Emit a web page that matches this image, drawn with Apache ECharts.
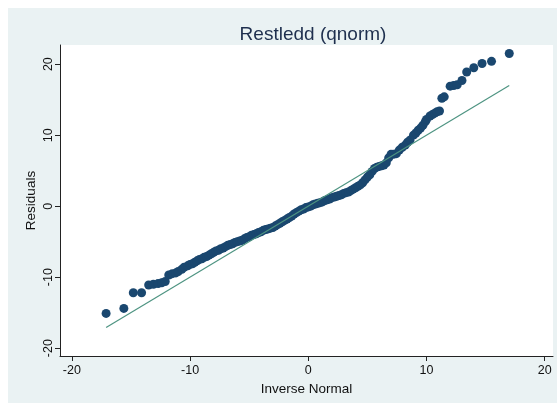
<!DOCTYPE html>
<html>
<head>
<meta charset="utf-8">
<script src="https://cdn.jsdelivr.net/npm/echarts@6/dist/echarts.min.js"></script>
<style>
  html, body { margin: 0; padding: 0; background: #fff; }
  #chart { width: 557px; height: 405px; }
</style>
</head>
<body>
<div id="chart"></div>
<script>
// Inverse normal quantiles (x) and sorted residuals (y)
var inverseNormal = [
  -17.1, -15.6, -14.8, -14.1, -13.5, -13.1, -12.7, -12.4, -12.1, -11.8,
  -11.5, -11.2, -11.0, -10.7, -10.5, -10.2, -10.0, -9.8, -9.6, -9.4,
  -9.2, -9.0, -8.8, -8.6, -8.4, -8.2, -8.0, -7.8, -7.6, -7.4,
  -7.2, -7.0, -6.8, -6.6, -6.4, -6.2, -6.0, -5.8, -5.6, -5.4,
  -5.2, -5.0, -4.8, -4.6, -4.4, -4.2, -4.0, -3.8, -3.6, -3.4,
  -3.2, -3.0, -2.8, -2.6, -2.4, -2.2, -2.0, -1.8, -1.6, -1.4,
  -1.2, -1.0, -0.8, -0.6, -0.4, -0.2, 0.0, 0.2, 0.4, 0.6,
  0.8, 1.0, 1.2, 1.4, 1.6, 1.8, 2.0, 2.2, 2.4, 2.6,
  2.8, 3.0, 3.2, 3.4, 3.6, 3.8, 4.0, 4.2, 4.4, 4.6,
  4.8, 5.0, 5.2, 5.4, 5.6, 5.8, 6.0, 6.2, 6.4, 6.6,
  6.8, 7.0, 7.2, 7.45, 7.7, 7.95, 8.2, 8.4, 8.6, 8.9,
  9.1, 9.3, 9.5, 9.7, 9.9, 10.0, 10.3, 10.5, 10.7, 10.9,
  11.1, 11.3, 11.5, 12.0, 12.3, 12.6, 13.0, 13.4, 14.0, 14.7,
  15.5, 17.0
];
var residuals = [
  -15.1, -14.4, -12.2, -12.2, -11.1, -11.0, -10.9, -10.8, -10.6, -9.7,
  -9.5, -9.4, -9.2, -8.9, -8.6, -8.4, -8.2, -8.1, -7.9, -7.7,
  -7.5, -7.4, -7.2, -7.1, -6.9, -6.7, -6.5, -6.3, -6.2, -6.0,
  -5.9, -5.7, -5.5, -5.4, -5.3, -5.1, -5.0, -4.9, -4.8, -4.6,
  -4.4, -4.3, -4.1, -4.0, -3.9, -3.7, -3.6, -3.4, -3.3, -3.2,
  -3.1, -3.0, -2.8, -2.6, -2.4, -2.2, -2.0, -1.8, -1.6, -1.4,
  -1.1, -0.9, -0.7, -0.5, -0.4, -0.2, -0.1, 0.0, 0.2, 0.3,
  0.4, 0.5, 0.6, 0.8, 0.9, 1.0, 1.2, 1.3, 1.4, 1.5,
  1.6, 1.8, 1.9, 2.0, 2.2, 2.4, 2.6, 2.8, 3.0, 3.3,
  3.7, 4.1, 4.4, 4.9, 5.3, 5.5, 5.6, 5.7, 5.8, 6.1,
  6.8, 7.3, 7.3, 7.4, 7.9, 8.3, 8.6, 9.0, 9.3, 10.0,
  10.3, 10.7, 11.0, 11.4, 11.9, 12.2, 12.7, 12.9, 13.1, 13.3,
  13.4, 15.2, 15.4, 16.9, 17.0, 17.1, 17.7, 18.9, 19.5, 20.1,
  20.4, 21.5
];
// reference line ends
var lineX = [-17.1, 17.0];
var lineY = [-17.1, 17.0];
var tickValues = [-20, -10, 0, 10, 20];

var points = inverseNormal.map(function (x, i) { return [x, residuals[i]]; });
var refLine = lineX.map(function (x, i) { return [x, lineY[i]]; });

var font = 'Liberation Sans, Arial, sans-serif';
var chart = echarts.init(document.getElementById('chart'));
chart.setOption({
  backgroundColor: '#fff',
  animation: false,
  graphic: [{
    type: 'rect', z: -10, silent: true,
    shape: { x: 8, y: 8, width: 549, height: 395 },
    style: { fill: '#eaf2f3' }
  }],
  title: {
    text: 'Restledd (qnorm)',
    left: 308, top: 20, textAlign: 'center',
    textStyle: { fontFamily: font, fontSize: 19, fontWeight: 'normal', color: '#1e2f4e' }
  },
  grid: {
    left: 60, top: 45, right: 4, bottom: 49,
    show: true, backgroundColor: '#fff', borderWidth: 0
  },
  xAxis: {
    type: 'value', min: -21, max: 20.7,
    name: 'Inverse Normal', nameLocation: 'middle', nameGap: 23,
    nameTextStyle: { fontFamily: font, fontSize: 13.5, color: '#111' },
    axisLine: { onZero: false, lineStyle: { color: '#222', width: 1 } },
    axisTick: { show: true, length: 5, customValues: tickValues, lineStyle: { color: '#222' } },
    axisLabel: { customValues: tickValues, margin: 8, fontFamily: font, fontSize: 12.5, color: '#111' },
    splitLine: { show: false }
  },
  yAxis: {
    type: 'value', min: -21.1, max: 22.7,
    name: 'Residuals', nameLocation: 'middle', nameGap: 22, nameMoveOverlap: false,
    nameTextStyle: { fontFamily: font, fontSize: 13.5, color: '#111' },
    axisLine: { show: true, onZero: false, lineStyle: { color: '#222', width: 1 } },
    axisTick: { show: true, length: 5, customValues: tickValues, lineStyle: { color: '#222' } },
    axisLabel: { customValues: tickValues, rotate: 90, margin: 5, fontFamily: font, fontSize: 12.5, color: '#111' },
    splitLine: { show: false }
  },
  series: [
    {
      type: 'scatter',
      data: points,
      symbol: 'circle',
      symbolSize: 9,
      itemStyle: { color: '#1a476f', opacity: 1 },
      z: 3
    },
    {
      type: 'line',
      data: refLine,
      symbol: 'none',
      lineStyle: { color: '#4e9482', width: 1.2 },
      z: 4
    }
  ]
});
</script>
</body>
</html>
